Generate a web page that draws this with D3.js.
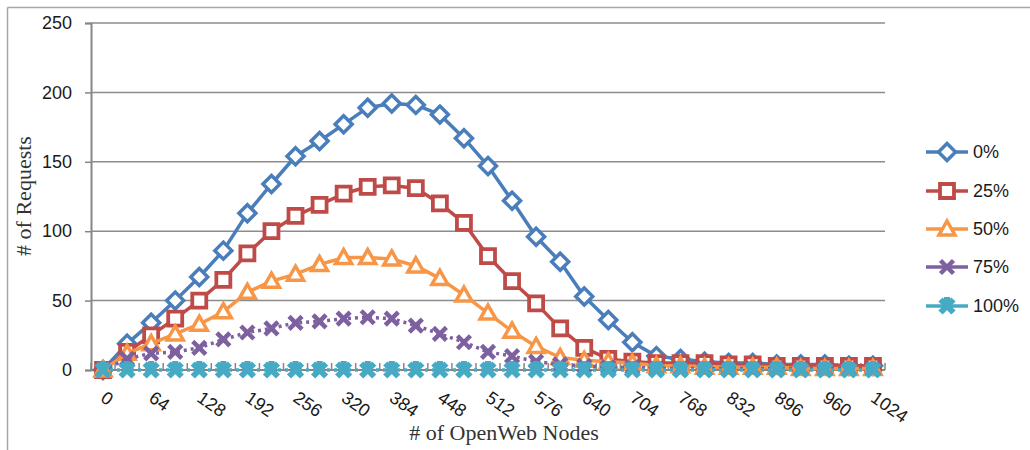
<!DOCTYPE html>
<html>
<head>
    <meta charset="utf-8">
    <script src="https://d3js.org/d3.v7.min.js"></script>
    <style>
        body { margin: 0; background: #fff; }
        .tick_text { font-family: "Liberation Sans", Arial, sans-serif; font-size: 18px; fill: #1a1a1a; }
        .axis_title { font-family: "Liberation Serif", "Times New Roman", serif; font-size: 22px; fill: #333; }
    </style>
</head>
<body>
<div id="chart"></div>
<script>
    // values
    const nodes = [0, 32, 64, 96, 128, 160, 192, 224, 256, 288, 320, 352, 384, 416, 448, 480,
                   512, 544, 576, 608, 640, 672, 704, 736, 768, 800, 832, 864, 896, 928, 960, 992, 1024];

    const series_names = ["0%", "25%", "50%", "75%", "100%"];

    const s0 = [0, 19, 34, 50, 67, 86, 113, 134, 154, 165, 177, 189, 192, 191, 184, 167,
                147, 122, 96, 78, 53, 36, 20, 10, 8, 6, 5, 5, 4, 4, 4, 3, 3];
    const s25 = [0, 13, 25, 37, 50, 65, 84, 100, 111, 119, 127, 132, 133, 131, 120, 106,
                 82, 64, 48, 30, 16, 8, 6, 5, 5, 5, 4, 4, 3, 3, 3, 3, 3];
    const s50 = [0, 12, 19, 26, 33, 42, 56, 64, 69, 76, 81, 81, 80, 75, 66, 54,
                 41, 28, 17, 9, 7, 6, 5, 3, 3, 2, 2, 2, 2, 1, 1, 1, 1];
    const s75 = [0, 8, 12, 13, 16, 22, 27, 30, 34, 35, 37, 38, 37, 32, 26, 20,
                 13, 10, 6, 4, 3, 2, 2, 1, 1, 1, 1, 1, 1, 1, 1, 1, 1];
    const s100 = [0, 0, 0, 0, 0, 0, 0, 0, 0, 0, 0, 0, 0, 0, 0, 0,
                  0, 0, 0, 0, 0, 0, 0, 0, 0, 0, 0, 0, 0, 0, 0, 0, 0];

    const y_ticks = [0, 50, 100, 150, 200, 250];

    const width = 1030;
    const height = 450;

    const plot_left = 91, plot_right = 885, plot_top = 23, plot_bottom = 370;

    const svg = d3.select("#chart").append("svg")
        .attr("width", width)
        .attr("height", height);

    // outer frame (only top/left visible in the crop)
    svg.append("line").attr("x1", 7.5).attr("y1", 7.5).attr("x2", width).attr("y2", 7.5)
        .attr("stroke", "#a6a6a6").attr("stroke-width", 1.5);
    svg.append("line").attr("x1", 7.5).attr("y1", 7.5).attr("x2", 7.5).attr("y2", height)
        .attr("stroke", "#a6a6a6").attr("stroke-width", 1.5);

    const x = d3.scaleBand().domain(nodes).range([plot_left, plot_right]).padding(0);
    const y = d3.scaleLinear().domain([0, 250]).range([plot_bottom, plot_top]);
    const cx = d => x(d) + x.bandwidth() / 2;

    // gridlines + y axis
    const y_axis = svg.append("g")
        .attr("transform", `translate(${plot_left},0)`)
        .call(d3.axisLeft(y).tickValues(y_ticks).tickSize(6).tickPadding(13));
    y_axis.select(".domain").attr("stroke", "#868686").attr("stroke-width", 2);
    y_axis.selectAll(".tick line").attr("stroke", "#868686").attr("stroke-width", 1.5);
    y_axis.selectAll(".tick text").attr("class", "tick_text").attr("font-size", null).attr("font-family", null);

    svg.append("g").selectAll("line")
        .data(y_ticks.filter(v => v > 0))
        .enter().append("line")
        .attr("x1", plot_left).attr("x2", plot_right)
        .attr("y1", d => y(d)).attr("y2", d => y(d))
        .attr("stroke", "#8c8c8c").attr("stroke-width", 1.5);

    // x axis line and boundary ticks
    svg.append("line").attr("x1", plot_left).attr("x2", plot_right)
        .attr("y1", plot_bottom).attr("y2", plot_bottom)
        .attr("stroke", "#868686").attr("stroke-width", 2);
    const bounds = nodes.map(d => x(d)).concat([plot_right]);
    svg.append("g").selectAll("line")
        .data(bounds)
        .enter().append("line")
        .attr("x1", d => d).attr("x2", d => d)
        .attr("y1", plot_bottom - 7).attr("y2", plot_bottom)
        .attr("stroke", "#868686").attr("stroke-width", 1.5);

    // x tick labels, every other category, rotated
    svg.append("g").selectAll("text")
        .data(nodes.filter((d, i) => i % 2 === 0))
        .enter().append("text")
        .attr("class", "tick_text")
        .attr("transform", d => `translate(${cx(d) + 4},${390}) rotate(35)`)
        .attr("dy", "0.72em")
        .text(d => d);

    // axis titles
    svg.append("text").attr("class", "axis_title")
        .attr("x", 504).attr("y", 440).attr("text-anchor", "middle")
        .text("# of OpenWeb Nodes");
    svg.append("text").attr("class", "axis_title")
        .attr("transform", "translate(31,196) rotate(-90)")
        .attr("text-anchor", "middle")
        .text("# of Requests");

    // marker shapes
    function marker_path(kind) {
        if (kind === "diamond") return "M0,-8.5L8.5,0L0,8.5L-8.5,0Z";
        if (kind === "square") return "M-7,-7L7,-7L7,7L-7,7Z";
        if (kind === "triangle") return "M0,-8L8,6L-8,6Z";
        if (kind === "x") return "M-6.5,-6.5L6.5,6.5M-6.5,6.5L6.5,-6.5";
        return "M-6.5,-6.5L6.5,6.5M-6.5,6.5L6.5,-6.5M0,-9L0,0";
    }

    const series = [
        { name: series_names[0], values: s0, color: "#4a7ebb", marker: "diamond", dash: null, mw: 3.5, fill: "#fff" },
        { name: series_names[1], values: s25, color: "#be4b48", marker: "square", dash: null, mw: 3.8, fill: "#fff" },
        { name: series_names[2], values: s50, color: "#f79646", marker: "triangle", dash: null, mw: 3.5, fill: "#fff" },
        { name: series_names[3], values: s75, color: "#7d60a0", marker: "x", dash: "3,4", mw: 4.5, fill: "none" },
        { name: series_names[4], values: s100, color: "#46aac5", marker: "star", dash: "3,4", mw: 6, fill: "none" }
    ];

    const line = d3.line()
        .x((d, i) => cx(nodes[i]))
        .y(d => y(d));

    series.forEach(s => {
        svg.append("path")
            .attr("d", line(s.values))
            .attr("fill", "none")
            .attr("stroke", s.color)
            .attr("stroke-width", 3.5)
            .attr("stroke-linejoin", "round")
            .attr("stroke-dasharray", s.dash);

        svg.append("g").selectAll("path")
            .data(s.values)
            .enter().append("path")
            .attr("transform", (d, i) => `translate(${cx(nodes[i])},${y(d)})`)
            .attr("d", marker_path(s.marker))
            .attr("fill", s.fill)
            .attr("stroke", s.color)
            .attr("stroke-width", s.mw);
    });

    // legend
    const legend_y = [152, 191, 229, 267, 306];
    series.forEach((s, i) => {
        const g = svg.append("g").attr("transform", `translate(926,${legend_y[i]})`);
        g.append("line").attr("x1", 0).attr("x2", 42).attr("y1", 0).attr("y2", 0)
            .attr("stroke", s.color).attr("stroke-width", 3.5);
        g.append("path").attr("transform", "translate(21,0)")
            .attr("d", marker_path(s.marker))
            .attr("fill", s.fill).attr("stroke", s.color).attr("stroke-width", s.mw);
        g.append("text").attr("class", "tick_text")
            .attr("x", 47).attr("dy", "0.36em")
            .text(s.name);
    });
</script>
</body>
</html>
